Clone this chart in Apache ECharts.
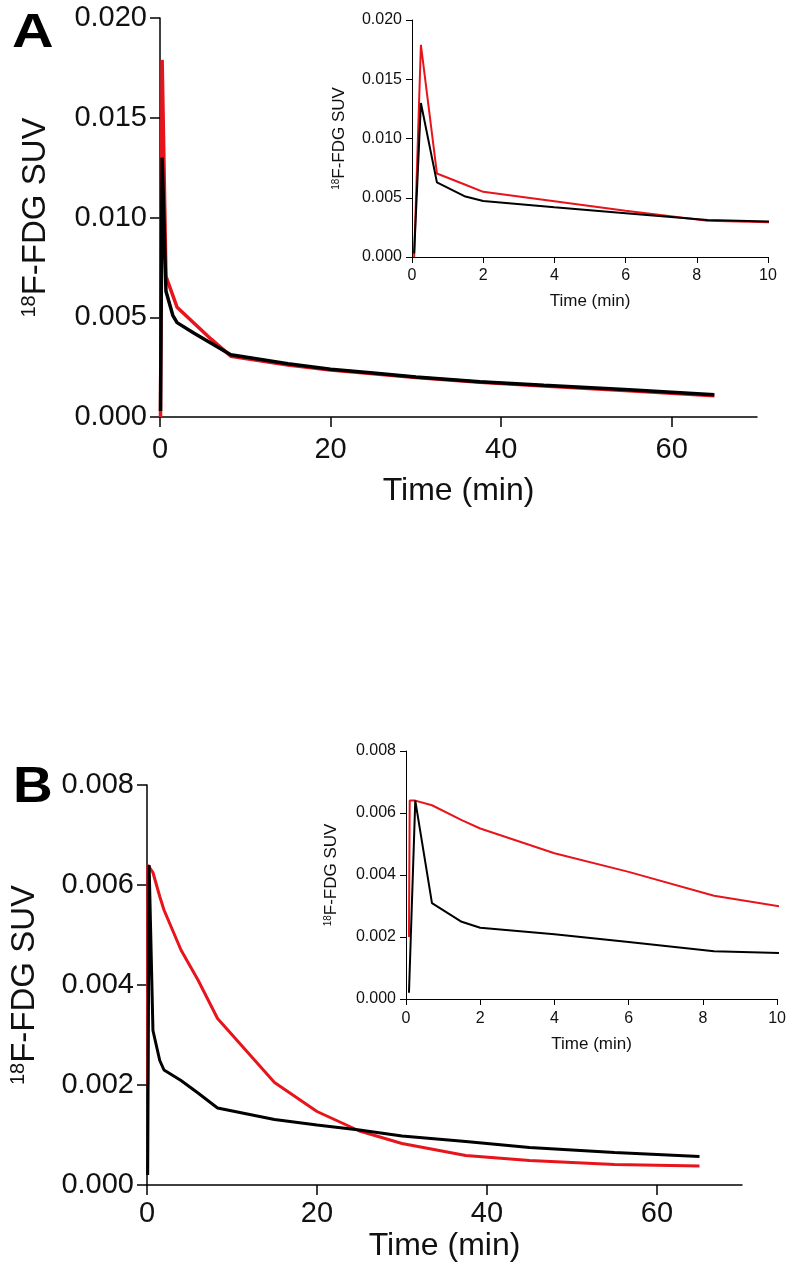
<!DOCTYPE html>
<html>
<head>
<meta charset="utf-8">
<script src="https://cdn.jsdelivr.net/npm/echarts@6/dist/echarts.min.js"></script>
<style>
html,body{margin:0;padding:0;background:#fff;}
#chart{width:789px;height:1280px;}
</style>
</head>
<body>
<div id="chart"></div>
<script>
// Panel A data (time in min, SUV)
const timeA  = [0.06, 0.25, 0.7, 1.5, 2, 4, 6, 8.3, 15, 20, 25, 30, 37.5, 45, 55, 65];
const redA   = [0, 0.0179, 0.00705, 0.0061, 0.0055, 0.0047, 0.0039, 0.00305, 0.0026, 0.00235, 0.00217, 0.00198, 0.00174, 0.00155, 0.00132, 0.00107];
const blackA = [0.0003, 0.013, 0.0063, 0.0051, 0.00473, 0.0042, 0.0037, 0.00312, 0.00267, 0.00239, 0.0022, 0.00201, 0.00177, 0.00159, 0.00136, 0.00112];

// Panel B data
const timeB  = [0.08, 0.1, 0.25, 0.7, 1.5, 2, 4, 6, 8.3, 15, 20, 25, 30, 37.5, 45, 55, 65];
const redB   = [0.002, 0.0064, 0.0064, 0.00625, 0.00577, 0.0055, 0.0047, 0.0041, 0.00333, 0.00205, 0.00147, 0.00108, 0.00083, 0.00059, 0.00049, 0.00041, 0.00038];
const blackB = [0.0002, null, 0.0064, 0.00309, 0.00249, 0.0023, 0.00209, 0.00184, 0.00154, 0.00131, 0.0012, 0.0011, 0.00098, 0.00087, 0.00075, 0.00065, 0.00057];

// Axis settings / tick labels
const mainXTicks = {min: 0, max: 70, interval: 20};
const mainXLabels = [0, 20, 40, 60];
const insetXTicks = {min: 0, max: 10, interval: 2};
const yRangeA = {min: 0, max: 0.02, interval: 0.005};
const yRangeB = {min: 0, max: 0.008, interval: 0.002};
const xName = 'Time (min)';
const yName = '{s|18}{n|F-FDG SUV}';

function pairs(t, v) { return t.map((x, i) => [x, v[i]]); }

const FONT = 'Liberation Sans, Arial, Helvetica, sans-serif';

function xAxis(grid, rng, fs, nfs, margin, gap, tickLen, lw, custom) {
  const ax = {
    type: 'value', gridIndex: grid, min: rng.min, max: rng.max, interval: rng.interval,
    name: xName, nameLocation: 'middle', nameGap: gap,
    nameTextStyle: {fontSize: nfs, color: '#111', fontFamily: FONT},
    axisLine: {show: true, onZero: false, lineStyle: {color: '#000', width: lw}},
    axisTick: {show: true, length: tickLen, lineStyle: {color: '#000', width: lw}},
    axisLabel: {fontSize: fs, color: '#111', margin: margin, fontFamily: FONT},
    splitLine: {show: false}
  };
  if (custom) {
    ax.axisTick.customValues = custom;
    ax.axisLabel.customValues = custom;
  }
  return ax;
}
function yAxis(grid, rng, fs, nfs, sfs, margin, gap, tickLen, lw) {
  return {
    type: 'value', gridIndex: grid, min: rng.min, max: rng.max, interval: rng.interval,
    name: yName, nameLocation: 'middle', nameGap: gap, nameRotate: 90,
    nameTextStyle: {fontFamily: FONT, color: '#111', rich: {
      s: {fontSize: sfs, color: '#111', fontFamily: FONT, verticalAlign: 'top', lineHeight: nfs},
      n: {fontSize: nfs, color: '#111', fontFamily: FONT, lineHeight: nfs}
    }},
    axisLine: {show: true, onZero: false, lineStyle: {color: '#000', width: lw}},
    axisTick: {show: true, length: tickLen, lineStyle: {color: '#000', width: lw}},
    axisLabel: {fontSize: fs, color: '#111', margin: margin, fontFamily: FONT,
      formatter: v => v.toFixed(3)},
    splitLine: {show: false}
  };
}
function line(xi, data, color, w) {
  return {type: 'line', xAxisIndex: xi, yAxisIndex: xi, data: data, showSymbol: false,
    symbol: 'none', connectNulls: true, clip: true, animation: false,
    lineStyle: {color: color, width: w}, itemStyle: {color: color}};
}

const chart = echarts.init(document.getElementById('chart'), null, {renderer: 'canvas'});
chart.setOption({
  backgroundColor: '#fff',
  animation: false,
  grid: [
    {left: 160, top: 18, width: 597, height: 399},
    {left: 412, top: 20, width: 356, height: 237},
    {left: 145, top: 785, width: 597, height: 400},
    {left: 406, top: 751, width: 372, height: 248}
  ],
  xAxis: [
    xAxis(0, mainXTicks, 29, 32, 18, 58, 10, 1.5, mainXLabels),
    xAxis(1, insetXTicks, 16, 17, 11, 36, 6, 1),
    xAxis(2, mainXTicks, 29, 32, 14, 45, 10, 1.5, mainXLabels),
    xAxis(3, insetXTicks, 16, 17, 12, 37, 6, 1)
  ],
  yAxis: [
    yAxis(0, yRangeA, 29, 33, 20, 13, 108, 10, 1.5),
    yAxis(1, yRangeA, 16, 17, 10, 10, 64, 6, 1),
    yAxis(2, yRangeB, 29, 33, 20, 13, 106, 10, 1.5),
    yAxis(3, yRangeB, 16, 17, 10, 10, 66, 6, 1)
  ],
  series: [
    line(0, pairs(timeA, redA), '#e8141b', 3.5),
    line(0, pairs(timeA, blackA), '#000', 3.5),
    line(1, pairs(timeA, redA), '#e8141b', 2),
    line(1, pairs(timeA, blackA), '#000', 2),
    line(2, pairs(timeB, redB), '#e8141b', 3),
    line(2, pairs(timeB, blackB), '#000', 3),
    line(3, pairs(timeB, redB), '#e8141b', 2),
    line(3, pairs(timeB, blackB), '#000', 2)
  ],
  graphic: [
    {type: 'text', left: 12, top: 10, scaleX: 1.2, style: {text: 'A', fontSize: 48, fontWeight: 'bold', fontFamily: FONT, fill: '#000'}},
    {type: 'text', left: 13, top: 763, scaleX: 1.1, style: {text: 'B', fontSize: 50, fontWeight: 'bold', fontFamily: FONT, fill: '#000'}}
  ]
});
</script>
</body>
</html>
